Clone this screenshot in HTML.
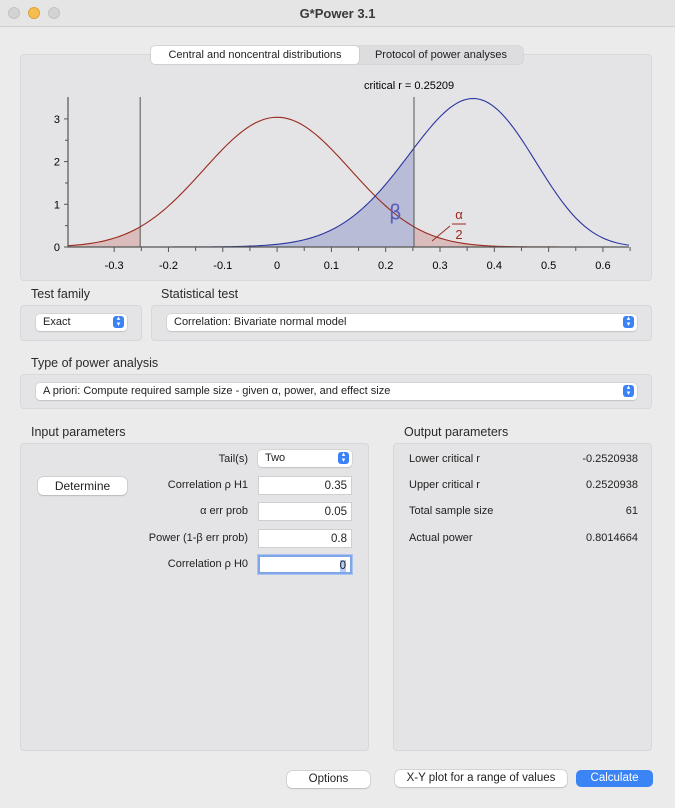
<!DOCTYPE html>
<html><head><meta charset="utf-8"><style>
*{box-sizing:border-box;margin:0;padding:0}
body{width:675px;height:808px;background:#ecebec;font-family:"Liberation Sans",sans-serif;font-size:11px;color:#222;position:relative;overflow:hidden}
.a{position:absolute}
.panel{position:absolute;background:#e4e3e5;border:1px solid #d8d7d9;border-radius:4px}
.lbl{position:absolute;font-size:12.5px;color:#2a2a2a}
.sel{position:absolute;background:#fff;border-radius:4px;box-shadow:0 0 0 0.5px #c4c4c4,0 1px 1px rgba(0,0,0,.15);padding:2px 7px;font-size:11px;line-height:13px}
.sel .ar{position:absolute;right:3px;top:2px;width:11px;height:12px;border-radius:3px;background:#3a82f6;color:#fff;font-size:7px;line-height:6px;text-align:center;padding-top:0}
.fld{position:absolute;background:#fff;border:1px solid #cfcfcf;text-align:right;padding:2px 4px;font-size:11.5px;line-height:14px;height:19px;width:94px;left:258px}
.rl{position:absolute;right:427px;font-size:11px;text-align:right;white-space:nowrap}
.ol{position:absolute;left:409px;font-size:11px}
.ov{position:absolute;right:37px;font-size:11px;text-align:right}
.btn{position:absolute;background:#fff;border-radius:5px;box-shadow:0 0 0 0.5px #bdbdbd,0 1px 1px rgba(0,0,0,.2);text-align:center;font-size:11.5px}
</style></head><body>
<div class="a" style="left:0;top:0;width:675px;height:27px;background:#e6e5e6;border-bottom:1px solid #d0d0d0">
 <div class="a" style="left:8px;top:7px;width:12px;height:12px;border-radius:6px;background:#d3d3d3;border:1px solid #c2c2c2"></div>
 <div class="a" style="left:28px;top:7px;width:12px;height:12px;border-radius:6px;background:#f6be4f;border:1px solid #dea23a"></div>
 <div class="a" style="left:48px;top:7px;width:12px;height:12px;border-radius:6px;background:#d3d3d3;border:1px solid #c2c2c2"></div>
 <div class="a" style="left:0;width:675px;top:6px;text-align:center;font-weight:bold;font-size:13px;color:#3a3a3a">G*Power 3.1</div>
</div>

<div class="panel" style="left:20px;top:54px;width:632px;height:227px"></div>
<div class="a" style="left:151px;top:46px;width:372px;height:18px;background:#dddcde;border-radius:4px;box-shadow:0 0 0 0.5px #c8c8c8"></div>
<div class="a" style="left:151px;top:46px;width:208px;height:18px;background:#fff;border-radius:4px;box-shadow:0 0 0 0.5px #bdbdbd;text-align:center;line-height:18px;font-size:11px">Central and noncentral distributions</div>
<div class="a" style="left:359px;top:46px;width:164px;height:18px;text-align:center;line-height:18px;font-size:11px">Protocol of power analyses</div>

<svg class="a" style="left:0;top:0" width="675" height="300" id="chart"></svg>

<div class="lbl" style="left:31px;top:287px">Test family</div>
<div class="panel" style="left:20px;top:305px;width:122px;height:36px"></div>
<div class="sel" style="left:36px;top:314px;width:91px;height:17px">Exact<span class="ar">▴<br>▾</span></div>
<div class="lbl" style="left:161px;top:287px">Statistical test</div>
<div class="panel" style="left:151px;top:305px;width:501px;height:36px"></div>
<div class="sel" style="left:167px;top:314px;width:470px;height:17px">Correlation: Bivariate normal model<span class="ar">▴<br>▾</span></div>

<div class="lbl" style="left:31px;top:356px">Type of power analysis</div>
<div class="panel" style="left:20px;top:374px;width:632px;height:35px"></div>
<div class="sel" style="left:36px;top:383px;width:601px;height:17px">A priori: Compute required sample size - given α, power, and effect size<span class="ar">▴<br>▾</span></div>

<div class="lbl" style="left:31px;top:425px">Input parameters</div>
<div class="panel" style="left:20px;top:443px;width:349px;height:308px"></div>
<div class="lbl" style="left:404px;top:425px">Output parameters</div>
<div class="panel" style="left:393px;top:443px;width:259px;height:308px"></div>

<div class="rl" style="top:453px">Tail(s)</div>
<div class="sel" style="left:258px;top:450px;width:94px;height:17px">Two<span class="ar">▴<br>▾</span></div>
<div class="btn" style="left:38px;top:477px;width:89px;height:18px;line-height:18px;font-size:12px">Determine</div>
<div class="rl" style="top:479px">Correlation ρ H1</div>
<div class="fld" style="top:476px">0.35</div>
<div class="rl" style="top:505px">α err prob</div>
<div class="fld" style="top:502px">0.05</div>
<div class="rl" style="top:532px">Power (1-β err prob)</div>
<div class="fld" style="top:529px">0.8</div>
<div class="rl" style="top:558px">Correlation ρ H0</div>
<div class="fld" style="top:555px;border:2px solid #7ea6e8;box-shadow:0 0 0 1px #a9c4f0"><span style="background:#b5cdf5">0</span></div>

<div class="ol" style="top:453px">Lower critical r</div>
<div class="ov" style="top:453px">-0.2520938</div>
<div class="ol" style="top:479px">Upper critical r</div>
<div class="ov" style="top:479px">0.2520938</div>
<div class="ol" style="top:505px">Total sample size</div>
<div class="ov" style="top:505px">61</div>
<div class="ol" style="top:532px">Actual power</div>
<div class="ov" style="top:532px">0.8014664</div>

<div class="btn" style="left:287px;top:771px;width:83px;height:17px;line-height:17px">Options</div>
<div class="btn" style="left:395px;top:770px;width:172px;height:17px;line-height:17px">X-Y plot for a range of values</div>
<div class="btn" style="left:576px;top:770px;width:77px;height:17px;line-height:17px;background:#3b84f5;color:#fff;box-shadow:none">Calculate</div>

<script>
const sampleSize = [61];
const rhoH0 = [0];
const rhoH1 = [0.35];
const criticalR = [-0.25209, 0.25209];
const xTicks = [-0.3,-0.2,-0.1,0,0.1,0.2,0.3,0.4,0.5,0.6];
const xTickLabels = ["-0.3","-0.2","-0.1","0","0.1","0.2","0.3","0.4","0.5","0.6"];
const yTicks = [0,1,2,3];
const xDomain = [-0.385, 0.648];

const NS="http://www.w3.org/2000/svg";
const svg=document.getElementById('chart');
const X0=68, X1=629, Y0=247, YTOP=97;
const xs=v=>X0+(v-xDomain[0])/(xDomain[1]-xDomain[0])*(X1-X0);
const ys=v=>Y0-v*42.7;
function dens(r,rho){const n=sampleSize[0];const s=1/Math.sqrt(n-3);const z=(Math.atanh(r)-Math.atanh(rho))/s;return Math.exp(-z*z/2)/(s*Math.sqrt(2*Math.PI))/(1-r*r);}
function mk(tag,attrs,name){const e=document.createElementNS(NS,tag);for(const k in attrs)e.setAttribute(k,attrs[k]);


svg.appendChild(e);return e;}
function curvePts(rho,a,b){const p=[];const N=200;for(let i=0;i<=N;i++){const r=a+(b-a)*i/N;p.push(xs(r).toFixed(2)+','+ys(dens(r,rho)).toFixed(2));}return p;}
function area(rho,a,b){const p=curvePts(rho,a,b);return 'M'+xs(a)+','+Y0+' L'+p.join(' L')+' L'+xs(b)+','+Y0+' Z';}
// fills
mk('path',{d:area(rhoH1[0],xDomain[0],criticalR[1]),fill:'#b9bcd7'},'beta-area');
mk('path',{d:area(rhoH0[0],xDomain[0],criticalR[0]),fill:'#d9bcbb'},'alpha-left-area');
mk('path',{d:area(rhoH0[0],criticalR[1],xDomain[1]),fill:'#d9bcbb'},'alpha-right-area');
// curves
mk('polyline',{points:curvePts(rhoH0[0],xDomain[0],xDomain[1]).join(' '),fill:'none',stroke:'#9a2a1e','stroke-width':1.1},'null-distribution-curve');
mk('polyline',{points:curvePts(rhoH1[0],xDomain[0],xDomain[1]).join(' '),fill:'none',stroke:'#2a35a0','stroke-width':1.1},'alternative-distribution-curve');
// critical lines
criticalR.forEach(c=>mk('line',{x1:xs(c),x2:xs(c),y1:YTOP,y2:Y0,stroke:'#555','stroke-width':1},'critical-line'));
// axes
mk('line',{x1:X0,x2:X0,y1:YTOP,y2:Y0,stroke:'#555','stroke-width':1.2},'y-axis');
mk('line',{x1:X0,x2:X1,y1:Y0,y2:Y0,stroke:'#555','stroke-width':1.2},'x-axis');
yTicks.forEach(t=>{mk('line',{x1:X0-4,x2:X0,y1:ys(t),y2:ys(t),stroke:'#555'},'y-tick');
 if(t<3)mk('line',{x1:X0-3,x2:X0,y1:ys(t+0.5),y2:ys(t+0.5),stroke:'#555'},'y-minor-tick');
 const tx=mk('text',{x:X0-8,y:ys(t)+4,'text-anchor':'end','font-size':11,'font-family':'Liberation Sans'},'y-tick-label');tx.textContent=t;});
xTicks.forEach((t,i)=>{mk('line',{x1:xs(t),x2:xs(t),y1:Y0,y2:Y0+5,stroke:'#555'},'x-tick');
 mk('line',{x1:xs(t+0.05),x2:xs(t+0.05),y1:Y0,y2:Y0+4,stroke:'#555'},'x-minor-tick');
 const tx=mk('text',{x:xs(t),y:Y0+22,'text-anchor':'middle','font-size':11,'font-family':'Liberation Sans'},'x-tick-label');tx.textContent=xTickLabels[i];});
const ct=mk('text',{x:xs(criticalR[1])-50,y:89,'font-size':11,'font-family':'Liberation Sans'},'critical-r-label');ct.textContent='critical r = '+criticalR[1].toFixed(5);
const bt=mk('text',{x:389,y:219,'font-size':20,fill:'#5a5fb8','font-family':'DejaVu Sans'},'beta-label');bt.textContent='β';
const a1=mk('text',{x:459,y:219,'text-anchor':'middle','font-size':13,fill:'#9a2a1e','font-family':'Liberation Sans'},'alpha-label');a1.textContent='α';
mk('line',{x1:452,x2:466,y1:224,y2:224,stroke:'#9a2a1e'},'alpha-fraction-bar');
const a2=mk('text',{x:459,y:239,'text-anchor':'middle','font-size':13,fill:'#9a2a1e','font-family':'Liberation Sans'},'alpha-half-label');a2.textContent='2';
mk('line',{x1:432,x2:450,y1:241,y2:226,stroke:'#9a2a1e'},'alpha-pointer');
</script>
</body></html>
